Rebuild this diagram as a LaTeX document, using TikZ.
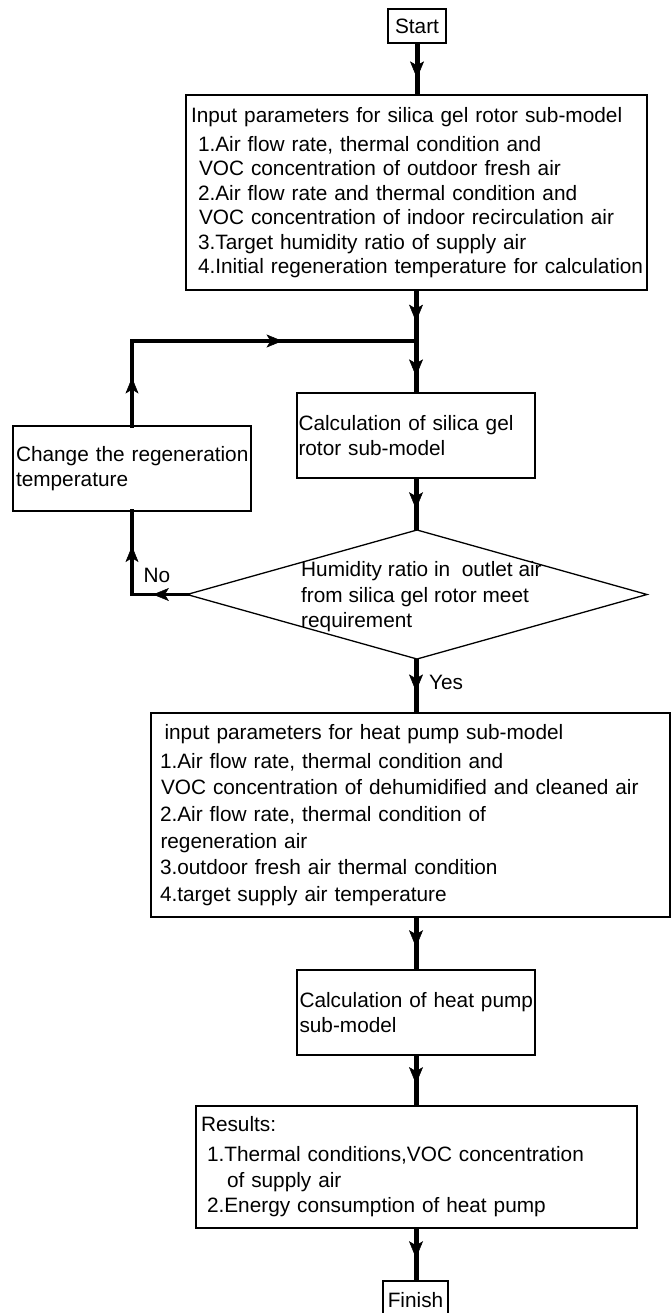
\documentclass[tikz,border=0pt]{standalone}
\usepackage{fontspec}
\setmainfont{Liberation Sans}
\usetikzlibrary{arrows.meta,decorations.markings,shapes.geometric}
\begin{document}
\begin{tikzpicture}[x=1pt,y=-1pt,
  txt/.style={font=\fontsize{20.8}{24.5}\selectfont},
  box/.style={draw, line width=1.8pt, rectangle, align=left, inner xsep=0pt, inner ysep=0pt, outer sep=0pt, anchor=north west, txt},
  flow/.style={line width=5pt, postaction={decorate, decoration={markings, mark=at position #1 with {\arrow[line width=0.5pt]{Stealth[length=17pt,width=14pt,inset=4pt]}}}}},
  flow/.default=0.62,
  loopflow/.style={line width=3.2pt, line cap=rect, postaction={decorate, decoration={markings, mark=at position #1 with {\arrow[line width=0.5pt]{Stealth[length=16pt,width=13pt,inset=4pt]}}}}},
  loopflow/.default=0.58,
  lbl/.style={txt, inner sep=0pt}]
\useasboundingbox (0,0) rectangle (671,1313);
\clip (0,0) rectangle (671,1313);

% nodes
\node[box, align=center, text width=58pt, minimum height=34pt] (start) at (388,9) {Start};

\node[box, text width=461pt, minimum height=195pt] (in1) at (186,95) {\hspace*{5pt}Input parameters for silica gel rotor sub-model\\[4.5pt]
\hspace*{12pt}1.Air flow rate, thermal condition and\\
\hspace*{13pt}VOC concentration of outdoor fresh air\\
\hspace*{12pt}2.Air flow rate and thermal condition and\\
\hspace*{13pt}VOC concentration of indoor recirculation air\\
\hspace*{12pt}3.Target humidity ratio of supply air\\
\hspace*{12pt}4.Initial regeneration temperature for calculation};

\node[box, text width=238pt, minimum height=85pt] (calc1) at (297,393) {\hspace*{1.5pt}Calculation of silica gel\\
\hspace*{1.5pt}rotor sub-model};

\node[box, text width=238pt, minimum height=85pt] (chg) at (13,426) {\hspace*{3pt}Change the regeneration\\
\hspace*{3pt}temperature};

\node[draw, line width=1.3pt, diamond, minimum width=460pt, minimum height=129pt, inner sep=0pt, outer sep=0pt] (dec) at (417,594.5) {};
\node[lbl, align=left, anchor=west, font=\fontsize{20.8}{25.5}\selectfont] (dectext) at (301,597) {Humidity ratio in\ \ outlet air\\
from silica gel rotor meet\\
requirement};

\node[box, text width=519pt, minimum height=204pt, font=\fontsize{20.8}{26.6}\selectfont] (in2) at (151,713) {\hspace*{13.5pt}input parameters for heat pump sub-model\\[2.4pt]
\hspace*{9pt}1.Air flow rate, thermal condition and\\
\hspace*{10pt}VOC concentration of dehumidified and cleaned air\\
\hspace*{9pt}2.Air flow rate, thermal condition of\\
\hspace*{9.5pt}regeneration air\\
\hspace*{9pt}3.outdoor fresh air thermal condition\\
\hspace*{9pt}4.target supply air temperature};

\node[box, text width=238pt, minimum height=85pt] (calc2) at (297,970) {\hspace*{2.5pt}Calculation of heat pump\\
\hspace*{2.5pt}sub-model};

\node[box, text width=441pt, minimum height=122pt, font=\fontsize{20.8}{25.5}\selectfont] (res) at (196,1106) {\hspace*{5pt}Results:\\[4.5pt]
\hspace*{11pt}1.Thermal conditions,VOC concentration\\
\hspace*{31pt}of supply air\\
\hspace*{11pt}2.Energy consumption of heat pump};

\node[box, align=center, text width=65pt, minimum height=38pt] (fin) at (383,1281) {Finish\\[-4pt]};

% junction and corners
\coordinate (j) at (416,341);
\coordinate (cTL) at (chg.north |- j);
\coordinate (cBL) at (chg.south |- dec.west);

% connectors
\draw[flow=0.68] (start.south) -- (start.south |- in1.north);
\draw[flow=0.62] (in1.south -| j) -- (j);
\draw[flow=0.68] (j) -- (j |- calc1.north);
\draw[loopflow=0.57] (chg.north) -- (cTL);
\draw[loopflow=0.53] (cTL) -- (j);
\draw[flow=0.6] (calc1.south) -- (calc1.south |- dec.north);
\draw[loopflow=0.62] (dec.west) -- (cBL);
\draw[loopflow=0.58] (cBL) -- (chg.south);
\draw[flow=0.6] (dec.south -| j) -- (j |- in2.north);
\draw[flow=0.57] (in2.south -| j) -- (j |- calc2.north);
\draw[flow=0.57] (calc2.south -| j) -- (j |- res.north);
\draw[flow=0.57] (res.south -| j) -- (j |- fin.north);

% labels
\node[lbl] (no) at (157,575) {No};
\node[lbl] (yes) at (446,682) {Yes};
\end{tikzpicture}
\end{document}
